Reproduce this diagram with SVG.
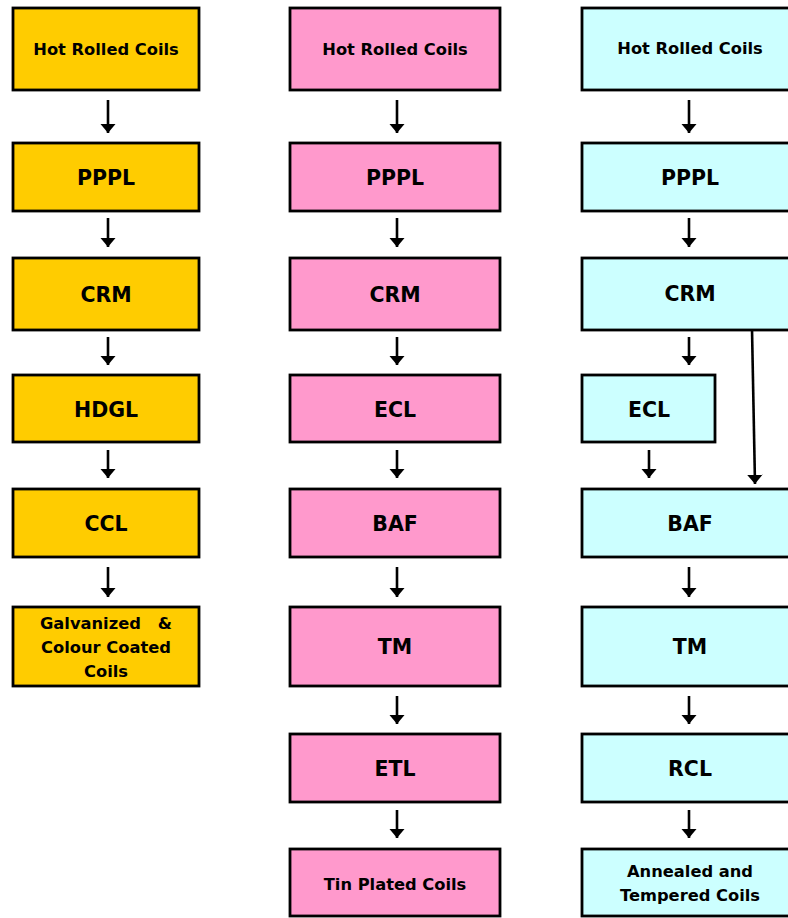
<svg xmlns="http://www.w3.org/2000/svg" width="788" height="918" viewBox="0 0 788 918">
<defs>
<marker id="ah" viewBox="0 0 10 10" refX="10" refY="5" markerWidth="3.6" markerHeight="6" markerUnits="strokeWidth" orient="auto" preserveAspectRatio="none">
<path d="M0,0 L10,5 L0,10 z" fill="#000"/>
</marker>
<style>
.b{stroke:#000;stroke-width:2.8}
.y{fill:#FFCC00}.p{fill:#FF99CC}.c{fill:#CCFFFF}
text{font-family:"DejaVu Sans",Verdana,sans-serif;font-weight:bold;fill:#000;text-anchor:middle;white-space:pre}
.s{font-size:16.3px}.l{font-size:20.5px}
.a{stroke:#000;stroke-width:2.6;fill:none;marker-end:url(#ah)}
</style>
</defs>
<rect width="788" height="918" fill="#fff"/>
<g id="c1n1"><rect class="b y" x="13" y="8" width="186" height="82"/><text class="s" x="106" y="55">Hot Rolled Coils</text></g>
<g id="c1n2"><rect class="b y" x="13" y="143" width="186" height="68"/><text class="l" x="106" y="185">PPPL</text></g>
<g id="c1n3"><rect class="b y" x="13" y="258" width="186" height="72"/><text class="l" x="106" y="302">CRM</text></g>
<g id="c1n4"><rect class="b y" x="13" y="375" width="186" height="67"/><text class="l" x="106" y="417">HDGL</text></g>
<g id="c1n5"><rect class="b y" x="13" y="489" width="186" height="68"/><text class="l" x="106" y="531">CCL</text></g>
<g id="c1n6"><rect class="b y" x="13" y="607" width="186" height="79"/><text class="s" x="106" y="629" xml:space="preserve">Galvanized   &amp;</text><text class="s" x="106" y="653">Colour Coated</text><text class="s" x="106" y="677">Coils</text></g>

<g id="c2n1"><rect class="b p" x="290" y="8" width="210" height="82"/><text class="s" x="395" y="55">Hot Rolled Coils</text></g>
<g id="c2n2"><rect class="b p" x="290" y="143" width="210" height="68"/><text class="l" x="395" y="185">PPPL</text></g>
<g id="c2n3"><rect class="b p" x="290" y="258" width="210" height="72"/><text class="l" x="395" y="302">CRM</text></g>
<g id="c2n4"><rect class="b p" x="290" y="375" width="210" height="67"/><text class="l" x="395" y="417">ECL</text></g>
<g id="c2n5"><rect class="b p" x="290" y="489" width="210" height="68"/><text class="l" x="395" y="531">BAF</text></g>
<g id="c2n6"><rect class="b p" x="290" y="607" width="210" height="79"/><text class="l" x="395" y="654">TM</text></g>
<g id="c2n7"><rect class="b p" x="290" y="734" width="210" height="68"/><text class="l" x="395" y="776">ETL</text></g>
<g id="c2n8"><rect class="b p" x="290" y="849" width="210" height="67"/><text class="s" x="395" y="890">Tin Plated Coils</text></g>

<g id="c3n1"><rect class="b c" x="582" y="8" width="220" height="82"/><text class="s" x="690" y="54">Hot Rolled Coils</text></g>
<g id="c3n2"><rect class="b c" x="582" y="143" width="220" height="68"/><text class="l" x="690" y="185">PPPL</text></g>
<g id="c3n3"><rect class="b c" x="582" y="258" width="220" height="72"/><text class="l" x="690" y="301">CRM</text></g>
<g id="c3n4"><rect class="b c" x="582" y="375" width="133" height="67"/><text class="l" x="649" y="417">ECL</text></g>
<g id="c3n5"><rect class="b c" x="582" y="489" width="220" height="68"/><text class="l" x="690" y="531">BAF</text></g>
<g id="c3n6"><rect class="b c" x="582" y="607" width="220" height="79"/><text class="l" x="690" y="654">TM</text></g>
<g id="c3n7"><rect class="b c" x="582" y="734" width="220" height="68"/><text class="l" x="690" y="776">RCL</text></g>
<g id="c3n8"><rect class="b c" x="582" y="849" width="220" height="67"/><text class="s" x="690" y="877">Annealed and</text><text class="s" x="690" y="901">Tempered Coils</text></g>

<g id="connectors">
<line class="a" x1="108" y1="100" x2="108" y2="133"/>
<line class="a" x1="108" y1="218" x2="108" y2="247"/>
<line class="a" x1="108" y1="337" x2="108" y2="365"/>
<line class="a" x1="108" y1="450" x2="108" y2="478"/>
<line class="a" x1="108" y1="567" x2="108" y2="597"/>

<line class="a" x1="397" y1="100" x2="397" y2="133"/>
<line class="a" x1="397" y1="218" x2="397" y2="247"/>
<line class="a" x1="397" y1="337" x2="397" y2="365"/>
<line class="a" x1="397" y1="450" x2="397" y2="478"/>
<line class="a" x1="397" y1="567" x2="397" y2="597"/>
<line class="a" x1="397" y1="696" x2="397" y2="724"/>
<line class="a" x1="397" y1="810" x2="397" y2="838"/>

<line class="a" x1="689" y1="100" x2="689" y2="133"/>
<line class="a" x1="689" y1="218" x2="689" y2="247"/>
<line class="a" x1="689" y1="337" x2="689" y2="365"/>
<line class="a" x1="649" y1="450" x2="649" y2="478"/>
<line class="a" x1="752" y1="329" x2="755" y2="484"/>
<line class="a" x1="689" y1="567" x2="689" y2="597"/>
<line class="a" x1="689" y1="696" x2="689" y2="724"/>
<line class="a" x1="689" y1="810" x2="689" y2="838"/>
</g>
</svg>
